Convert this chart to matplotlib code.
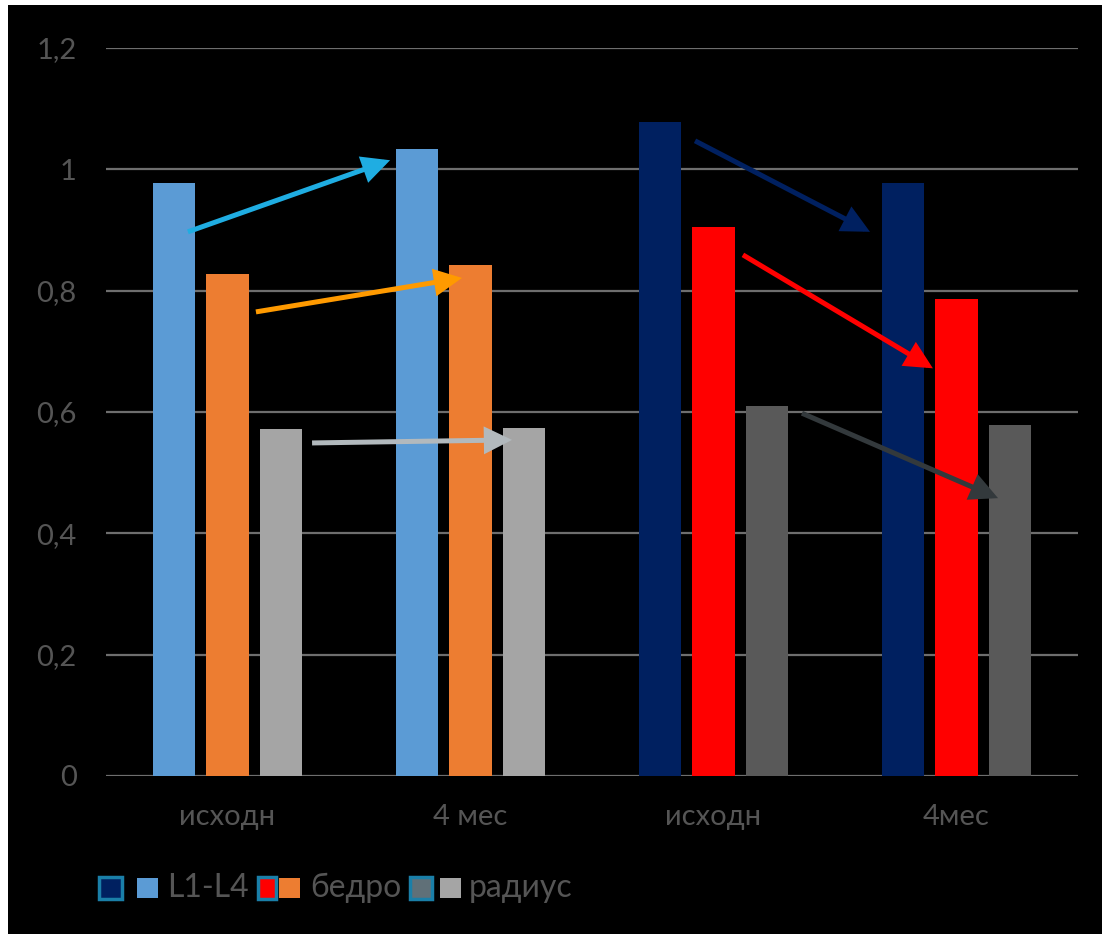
import numpy as np
import matplotlib
matplotlib.use("Agg")
import matplotlib.pyplot as plt
from matplotlib.patches import Rectangle

# data
categories = ["исходн", "4 мес", "исходн", "4мес"]
series_names = ["L1-L4", "бедро", "радиус"]
l1l4 = [0.977, 1.033, 1.078, 0.977]
bedro = [0.827, 0.842, 0.905, 0.786]
radius = [0.572, 0.574, 0.610, 0.579]
yticks = [0, 0.2, 0.4, 0.6, 0.8, 1.0, 1.2]
ytick_labels = ["0", "0,2", "0,4", "0,6", "0,8", "1", "1,2"]

# colours: first two groups use light palette, last two dark palette
colors_light = ["#5B9BD5", "#ED7D31", "#A5A5A5"]
colors_dark = ["#002060", "#FF0000", "#595959"]

# arrows drawn on top of the chart (start, end) in data units
arrow_starts = [(-0.163, 0.897), (0.117, 0.765), (0.348, 0.549),
                (1.924, 1.047), (2.121, 0.859), (2.364, 0.598)]
arrow_ends = [(0.669, 1.015), (0.965, 0.821), (1.171, 0.554),
              (2.644, 0.897), (2.903, 0.672), (3.171, 0.458)]
arrow_colors = ["#1FADE2", "#FF9A00", "#B2B9BD", "#002060", "#FF0000", "#33393C"]

plt.rcParams['font.family'] = ['Lato', 'DejaVu Sans']
text_color = "#555555"

fig = plt.figure(figsize=(11.02, 9.34), dpi=100)
fig.patch.set_facecolor("white")
# black panel with small white margin at top and left
fig.patches.append(Rectangle((8 / 1102, 0), 1, 1 - 5 / 934, transform=fig.transFigure,
                             facecolor="black", edgecolor="none", zorder=-10))

ax = fig.add_axes([106 / 1102, 1 - 776 / 934, (1078 - 106) / 1102, (776 - 48) / 934])
ax.set_facecolor("black")

x = np.arange(len(categories))
width = 0.173
offsets = [-0.22, 0.0, 0.22]
values = [l1l4, bedro, radius]
for s in range(3):
    cols = [colors_light[s], colors_light[s], colors_dark[s], colors_dark[s]]
    ax.bar(x + offsets[s], values[s], width, color=cols, zorder=2)

ax.set_xlim(-0.5, 3.5)
ax.set_ylim(0, 1.2)
ax.set_yticks(yticks)
ax.set_yticklabels(ytick_labels)
ax.set_xticks(x)
ax.set_xticklabels(categories)
ax.tick_params(axis="both", length=0, colors=text_color, labelsize=21)
ax.tick_params(axis="y", pad=21)
ax.tick_params(axis="x", pad=20)
ax.yaxis.grid(True, color="#6E6E6E", linewidth=1.6, zorder=0)
ax.set_axisbelow(True)
for sp in ax.spines.values():
    sp.set_visible(False)

for (x0, y0), (x1, y1), c in zip(arrow_starts, arrow_ends, arrow_colors):
    ax.annotate("", xy=(x1, y1), xytext=(x0, y0),
                arrowprops=dict(arrowstyle="-|>,head_length=0.85,head_width=0.42",
                                color=c, lw=3.6, mutation_scale=17,
                                joinstyle="miter", capstyle="butt",
                                shrinkA=0, shrinkB=0), zorder=5)

# legend drawn by hand: each entry shows the dark and light swatch
W, H = 1102, 934
teal = "#1A7FA8"
legend_dark_fill = ["#002060", "#FF0000", "#607078"]
dark_box_x = [97, 256, 408]
dark_box_w = [26, 21, 25]
light_box_x = [137, 279, 440]
text_x = [167, 310, 469]
yc = 888
for i in range(3):
    bw = dark_box_w[i]
    fig.patches.append(Rectangle(((dark_box_x[i] + 1.5) / W, 1 - (yc + 11) / H),
                                 (bw - 3) / W, 22 / H, transform=fig.transFigure,
                                 facecolor=legend_dark_fill[i], edgecolor=teal,
                                 linewidth=2.5))
    fig.patches.append(Rectangle((light_box_x[i] / W, 1 - (yc + 10) / H),
                                 21 / W, 20 / H, transform=fig.transFigure,
                                 facecolor=colors_light[i], edgecolor="none"))
    fig.text(text_x[i] / W, 1 - yc / H, series_names[i], color=text_color,
             fontsize=23, va="center", ha="left")

fig.savefig("out.png", dpi=100, facecolor=fig.get_facecolor())
